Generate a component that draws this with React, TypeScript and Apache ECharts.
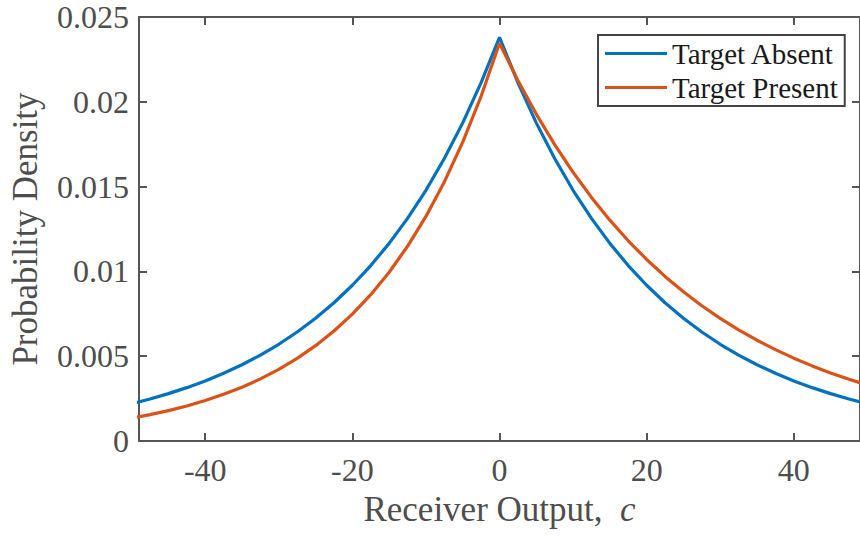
import React, { useEffect, useRef } from "react";
import * as echarts from "echarts";

const xValues = [
  -50, -47.5, -45, -42.5, -40, -37.5, -35, -32.5, -30, -27.5, -25, -22.5, -20, -17.5, -15, -12.5, -10, -7.5, -5, -2.5,
  0, 2.5, 5, 7.5, 10, 12.5, 15, 17.5, 20, 22.5, 25, 27.5, 30, 32.5, 35, 37.5, 40, 42.5, 45, 47.5, 50,
];

const targetAbsent = [
  0.002201, 0.002479, 0.002793, 0.003146, 0.003543, 0.003991, 0.004496, 0.005064, 0.005704, 0.006425, 0.007237,
  0.008152, 0.009183, 0.010344, 0.011652, 0.013125, 0.014784, 0.016653, 0.018758, 0.021129, 0.0238, 0.021129,
  0.018758, 0.016653, 0.014784, 0.013125, 0.011652, 0.010344, 0.009183, 0.008152, 0.007237, 0.006425, 0.005704,
  0.005064, 0.004496, 0.003991, 0.003543, 0.003146, 0.002793, 0.002479, 0.002201,
];

const targetPresent = [
  0.001347, 0.001554, 0.001792, 0.002068, 0.002385, 0.002751, 0.003174, 0.003661, 0.004223, 0.004872, 0.00562,
  0.006483, 0.007479, 0.008627, 0.009952, 0.01148, 0.013243, 0.015276, 0.017622, 0.020328, 0.02345, 0.02126,
  0.019275, 0.017475, 0.015843, 0.014363, 0.013022, 0.011806, 0.010703, 0.009704, 0.008797, 0.007976, 0.007231,
  0.006556, 0.005943, 0.005388, 0.004885, 0.004429, 0.004015, 0.00364, 0.0033,
];

const xTicks = [-40, -20, 0, 20, 40];
const seriesNames = ["Target Absent", "Target Present"];
const seriesColors = ["#0072BD", "#D95319"];

const FONT = "'Liberation Serif', 'Times New Roman', serif";
const AXIS_COLOR = "#555555";
const TEXT_COLOR = "#4d4d4d";

export default function App() {
  const ref = useRef<HTMLDivElement>(null);

  useEffect(() => {
    if (!ref.current) return;
    const chart = echarts.init(ref.current, null, { renderer: "svg" });
    const mk = (ys: number[]) => xValues.map((x, i) => [x, ys[i]]);
    const axisLine = { show: true, onZero: false, lineStyle: { color: AXIS_COLOR, width: 2 } };
    const tick = { show: true, inside: true, length: 8, lineStyle: { color: AXIS_COLOR, width: 2 } };

    chart.setOption({
      animation: false,
      backgroundColor: "#ffffff",
      grid: { left: 133, top: 17, right: -5, bottom: 95, containLabel: false },
      legend: {
        orient: "vertical",
        left: 598,
        top: 35,
        padding: [4, 7, 4, 7],
        itemGap: 5,
        itemWidth: 62,
        itemHeight: 29,
        icon: "path://M0,13 L62,13 L62,16 L0,16 Z",
        backgroundColor: "#ffffff",
        borderColor: "#444444",
        borderWidth: 2,
        borderRadius: 0,
        textStyle: { fontFamily: FONT, fontSize: 29, color: "#1a1a1a", padding: [0, 0, 0, 0] },
        data: seriesNames,
      },
      xAxis: [
        {
          type: "value",
          min: -49,
          max: 49,
          position: "bottom",
          axisLine,
          axisTick: { ...tick, customValues: xTicks },
          axisLabel: {
            customValues: xTicks,
            margin: 13,
            fontFamily: FONT,
            fontSize: 32,
            color: TEXT_COLOR,
          },
          splitLine: { show: false },
          name: "Receiver Output,  {i|c}",
          nameLocation: "middle",
          nameGap: 51,
          nameTextStyle: {
            fontFamily: FONT,
            fontSize: 35,
            color: TEXT_COLOR,
            rich: { i: { fontFamily: FONT, fontSize: 35, fontStyle: "italic", color: TEXT_COLOR } },
          },
        },
        {
          type: "value",
          min: -49,
          max: 49,
          position: "top",
          axisLine,
          axisTick: { ...tick, customValues: xTicks },
          axisLabel: { show: false },
          splitLine: { show: false },
        },
      ],
      yAxis: [
        {
          type: "value",
          min: 0,
          max: 0.025,
          interval: 0.005,
          position: "left",
          axisLine,
          axisTick: tick,
          axisLabel: { margin: 10, fontFamily: FONT, fontSize: 32, color: TEXT_COLOR },
          splitLine: { show: false },
          name: "Probability Density",
          nameLocation: "middle",
          nameGap: 96,
          nameTextStyle: { fontFamily: FONT, fontSize: 35, color: TEXT_COLOR },
        },
        {
          type: "value",
          min: 0,
          max: 0.025,
          interval: 0.005,
          position: "right",
          axisLine,
          axisTick: tick,
          axisLabel: { show: false },
          splitLine: { show: false },
        },
      ],
      series: [
        {
          name: seriesNames[0],
          type: "line",
          data: mk(targetAbsent),
          showSymbol: false,
          symbol: "none",
          smooth: false,
          clip: true,
          color: seriesColors[0],
          lineStyle: { color: seriesColors[0], width: 3.2 },
        },
        {
          name: seriesNames[1],
          type: "line",
          data: mk(targetPresent),
          showSymbol: false,
          symbol: "none",
          smooth: false,
          clip: true,
          color: seriesColors[1],
          lineStyle: { color: seriesColors[1], width: 3.2 },
        },
      ],
    });
    return () => chart.dispose();
  }, []);

  return (
    <div
      ref={ref}
      style={{ position: "absolute", left: 0, top: 0, width: 860, height: 536, overflow: "hidden", background: "#fff" }}
    />
  );
}
